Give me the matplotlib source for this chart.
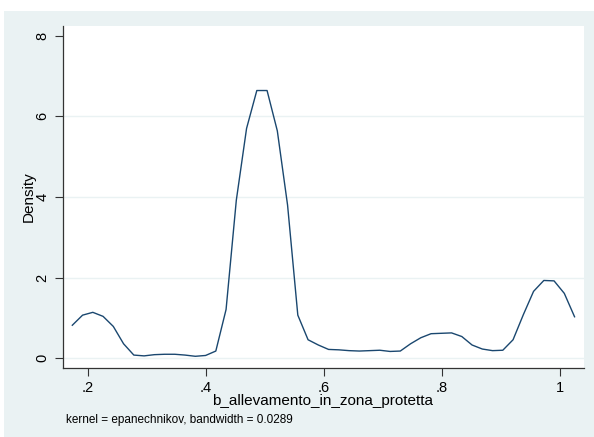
import matplotlib
matplotlib.use("Agg")
from matplotlib import pyplot as plt
from matplotlib.patches import Rectangle
import numpy as np

plt.rcParams['font.family'] = ['Liberation Sans', 'DejaVu Sans']

# kdensity estimate, 50 evenly spaced points
x_start = 0.1739
x_end = 1.0247
density = [0.82, 1.07, 1.14, 1.04, 0.79, 0.36, 0.08, 0.06, 0.09, 0.10,
           0.10, 0.08, 0.05, 0.07, 0.18, 1.21, 3.92, 5.70, 6.64, 6.64,
           5.64, 3.80, 1.07, 0.46, 0.33, 0.22, 0.21, 0.19, 0.18, 0.19,
           0.20, 0.17, 0.18, 0.36, 0.51, 0.61, 0.62, 0.63, 0.54, 0.33,
           0.23, 0.19, 0.20, 0.46, 1.08, 1.66, 1.93, 1.92, 1.61, 1.03]
xs = np.linspace(x_start, x_end, len(density))

xticks = [0.2, 0.4, 0.6, 0.8, 1.0]
xticklabels = [".2", ".4", ".6", ".8", "1"]
yticks = [0, 2, 4, 6, 8]
ygrid = [0, 2, 4, 6]

bg = "#EAF2F3"
navy = "#1A476F"

fig = plt.figure(figsize=(5.94, 4.37), dpi=100, facecolor="white")
fig.patches.append(Rectangle((4 / 594, 0), 1, 1 - 11 / 437, transform=fig.transFigure,
                             facecolor=bg, edgecolor="none", zorder=-10))

ax = fig.add_axes([62.7 / 594, 1 - 367.7 / 437, (584 - 62.7) / 594, (367.7 - 26) / 437])
ax.set_facecolor("white")
ax.plot(xs, density, color=navy, lw=1.0)

ax.set_xlim(0.1576, 1.0407)
ax.set_ylim(-0.233, 8.24)
ax.set_xticks(xticks)
ax.set_xticklabels(xticklabels, fontsize=10.5)
ax.set_yticks(yticks)
ax.set_yticklabels([str(t) for t in yticks], fontsize=10.5, rotation=90, va="center")
ax.tick_params(length=6, width=0.8, color="#333333", pad=3.5)
for t in ygrid:
    ax.axhline(t, color=bg, lw=1, zorder=0)

for s in ["top", "right"]:
    ax.spines[s].set_visible(False)
for s in ["left", "bottom"]:
    ax.spines[s].set_color("#333333")
    ax.spines[s].set_linewidth(0.9)

fig.text(29 / 594, 1 - 197 / 437, "Density", rotation=90, ha="center", va="center", fontsize=11)
fig.text(323 / 594, 1 - 401 / 437, "b_allevamento_in_zona_protetta", ha="center", va="center", fontsize=11)
fig.text(66 / 594, 1 - 420 / 437, "kernel = epanechnikov, bandwidth = 0.0289", ha="left", va="center", fontsize=8.5)

fig.savefig("out.png", dpi=100, facecolor="white")
